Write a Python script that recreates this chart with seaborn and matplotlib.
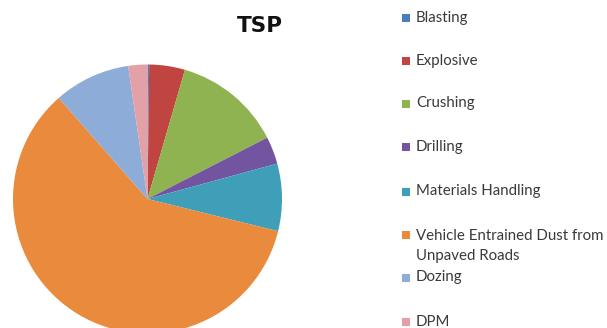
import matplotlib
matplotlib.use("Agg")
import matplotlib.pyplot as plt
from matplotlib.patches import Rectangle
import seaborn as sns

sns.set_theme(style="white")

# TSP emission share by source (%)
sources = [
    "Blasting",
    "Explosive",
    "Crushing",
    "Drilling",
    "Materials Handling",
    "Vehicle Entrained Dust from\nUnpaved Roads",
    "Dozing",
    "DPM",
]
shares = [0.2, 4.3, 13.0, 3.3, 8.1, 59.8, 9.2, 2.3]
slice_colors = ["#4A7DBD", "#C0443F", "#8FB350", "#7254A0", "#3F9FB8",
                "#E98A3C", "#8EACD8", "#E3A0A6"]

palette = sns.color_palette(slice_colors)

W, H = 607, 328
fig = plt.figure(figsize=(W / 100, H / 100), dpi=100)
fig.patch.set_facecolor("white")

# pie axes placed in pixel units: centre (147.5, 199), radius 134.5
cx, cy, r = 147.5, 199.0, 134.5
ax = fig.add_axes([(cx - r) / W, (H - cy - r) / H, 2 * r / W, 2 * r / H])
ax.pie(shares, colors=palette, startangle=90, counterclock=False,
       radius=1.0, wedgeprops=dict(linewidth=0))
ax.set_xlim(-1, 1)
ax.set_ylim(-1, 1)
ax.set_axis_off()

fig.text(259.5 / W, 1 - 25.5 / H, "TSP", ha="center", va="center",
         fontsize=15.5, fontweight="bold", family="DejaVu Sans", color="#111111")

# legend drawn row by row
row_y = [18, 61, 103.5, 147, 191.5, 235, 277.5, 321.5]
for label, col, y in zip(sources, slice_colors, row_y):
    fig.patches.append(Rectangle((402 / W, 1 - (y + 4) / H), 8 / W, 8 / H,
                                 transform=fig.transFigure, facecolor=col,
                                 edgecolor="none"))
    two_line = "\n" in label
    fig.text(416 / W, 1 - (y - 5.5 if two_line else y) / H, label, ha="left",
             va="top" if two_line else "center",
             fontsize=10.8, family="Lato", color="#3A3A3A", linespacing=1.5)

fig.savefig("out.png", dpi=100, facecolor="white")
